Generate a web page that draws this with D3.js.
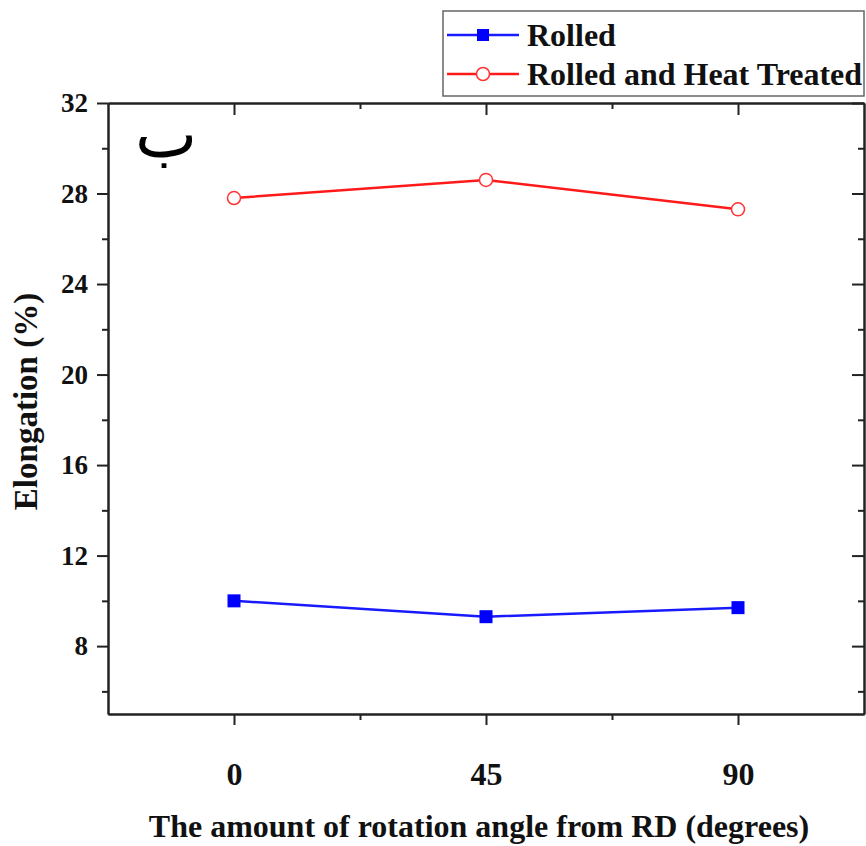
<!DOCTYPE html>
<html>
<head>
<meta charset="utf-8">
<script src="https://cdn.jsdelivr.net/npm/d3@7"></script>
<style>
  body { margin: 0; background: #fff; }
  text { font-family: "Liberation Serif", "Times New Roman", serif; font-weight: bold; }
</style>
</head>
<body>
<div id="chart"></div>
<script>
//data
var angles = [0, 45, 90];
var rolled = [10.0, 9.3, 9.7];
var heatTreated = [27.8, 28.6, 27.3];
var yTicks = [8, 12, 16, 20, 24, 28, 32];
var yMinor = [6, 10, 14, 18, 22, 26, 30];
var xMinor = [22.5, 67.5];

//dims
var width = 866;
var height = 846;
var margin = { top: 103, right: 2, bottom: 132, left: 108 };
var innerW = width - margin.left - margin.right;
var innerH = height - margin.top - margin.bottom;

var svg = d3.select("#chart")
    .append('svg')
    .attr('width', width)
    .attr('height', height);

var g = svg.append('g')
    .attr('transform', 'translate(' + margin.left + ',' + margin.top + ')');

//scales
var x = d3.scaleLinear().domain([-22.5, 112.5]).range([0, innerW]);
var y = d3.scaleLinear().domain([5, 32]).range([innerH, 0]);

//axes
function styleAxis(size) {
  return function(sel) {
    sel.select('.domain').attr('stroke', '#222').attr('stroke-width', 2);
    sel.selectAll('.tick line').attr('stroke', '#222').attr('stroke-width', 2);
    sel.selectAll('text').attr('fill', '#111').style('font-size', size + 'px');
  };
}

// bottom
g.append('g')
    .attr('transform', 'translate(0,' + innerH + ')')
    .call(d3.axisBottom(x).tickValues(angles).tickSize(11).tickPadding(37).tickSizeOuter(0))
    .call(styleAxis(32));
g.append('g')
    .attr('transform', 'translate(0,' + innerH + ')')
    .call(d3.axisBottom(x).tickValues(xMinor).tickSize(6).tickFormat('').tickSizeOuter(0))
    .call(styleAxis(32));

// top
g.append('g')
    .call(d3.axisTop(x).tickValues(angles).tickSize(-12).tickFormat('').tickSizeOuter(0))
    .call(styleAxis(32));
g.append('g')
    .call(d3.axisTop(x).tickValues(xMinor).tickSize(-6).tickFormat('').tickSizeOuter(0))
    .call(styleAxis(32));

// left
g.append('g')
    .call(d3.axisLeft(y).tickValues(yTicks).tickSize(11).tickPadding(9).tickSizeOuter(0))
    .call(styleAxis(27));
g.append('g')
    .call(d3.axisLeft(y).tickValues(yMinor).tickSize(6).tickFormat('').tickSizeOuter(0))
    .call(styleAxis(27));

// right
g.append('g')
    .attr('transform', 'translate(' + innerW + ',0)')
    .call(d3.axisRight(y).tickValues(yTicks).tickSize(-12).tickFormat('').tickSizeOuter(0))
    .call(styleAxis(27));
g.append('g')
    .attr('transform', 'translate(' + innerW + ',0)')
    .call(d3.axisRight(y).tickValues(yMinor).tickSize(-6).tickFormat('').tickSizeOuter(0))
    .call(styleAxis(27));

//lines
var line = d3.line()
  .x(function(d) { return x(d.a); })
  .y(function(d) { return y(d.v); });

var rolledData = angles.map(function(a, i) { return { a: a, v: rolled[i] }; });
var htData = angles.map(function(a, i) { return { a: a, v: heatTreated[i] }; });

g.append('path')
  .datum(htData)
  .attr('d', line)
  .attr('fill', 'none')
  .attr('stroke', '#ff1a1a')
  .attr('stroke-width', 2.5);

g.selectAll('.ht')
  .data(htData)
  .enter()
  .append('circle')
  .attr('cx', function(d) { return x(d.a); })
  .attr('cy', function(d) { return y(d.v); })
  .attr('r', 6.5)
  .attr('fill', '#fff')
  .attr('stroke', '#ff3333')
  .attr('stroke-width', 1.5);

g.append('path')
  .datum(rolledData)
  .attr('d', line)
  .attr('fill', 'none')
  .attr('stroke', '#1a1aff')
  .attr('stroke-width', 2.5);

g.selectAll('.rl')
  .data(rolledData)
  .enter()
  .append('rect')
  .attr('x', function(d) { return x(d.a) - 6.5; })
  .attr('y', function(d) { return y(d.v) - 6.5; })
  .attr('width', 13)
  .attr('height', 13)
  .attr('fill', '#0000ff');

//panel letter
g.append('text')
  .attr('x', 58)
  .attr('y', 54)
  .attr('text-anchor', 'middle')
  .style('font-family', '"DejaVu Sans", sans-serif')
  .style('font-weight', 'normal')
  .style('font-size', '66px')
  .attr('fill', '#000')
  .text('ب');

//axis titles
svg.append('text')
  .attr('x', margin.left + innerW / 2 - 7)
  .attr('y', 837)
  .attr('text-anchor', 'middle')
  .style('font-size', '32px')
  .attr('fill', '#111')
  .text('The amount of rotation angle from RD (degrees)');

svg.append('text')
  .attr('transform', 'translate(37,' + (margin.top + innerH / 2 - 7) + ') rotate(-90)')
  .attr('text-anchor', 'middle')
  .style('font-size', '33px')
  .attr('fill', '#111')
  .text('Elongation (%)');

//legend
var legend = svg.append('g').attr('transform', 'translate(443,11)');
legend.append('rect')
  .attr('width', 421)
  .attr('height', 85)
  .attr('fill', '#fff')
  .attr('stroke', '#666')
  .attr('stroke-width', 1.5);

var leg = [
  { label: 'Rolled', color: '#1a1aff', shape: 'square', yy: 24 },
  { label: 'Rolled and Heat Treated', color: '#ff1a1a', shape: 'circle', yy: 63 }
];

leg.forEach(function(d) {
  legend.append('line')
    .attr('x1', 4).attr('x2', 76)
    .attr('y1', d.yy).attr('y2', d.yy)
    .attr('stroke', d.color)
    .attr('stroke-width', 2.5);
  if (d.shape === 'square') {
    legend.append('rect')
      .attr('x', 34).attr('y', d.yy - 6)
      .attr('width', 12).attr('height', 12)
      .attr('fill', '#0000ff');
  } else {
    legend.append('circle')
      .attr('cx', 40).attr('cy', d.yy)
      .attr('r', 6.5)
      .attr('fill', '#fff')
      .attr('stroke', '#ff3333')
      .attr('stroke-width', 1.5);
  }
  legend.append('text')
    .attr('x', 84)
    .attr('y', d.yy + 11)
    .style('font-size', '32px')
    .attr('fill', '#111')
    .text(d.label);
});
</script>
</body>
</html>
